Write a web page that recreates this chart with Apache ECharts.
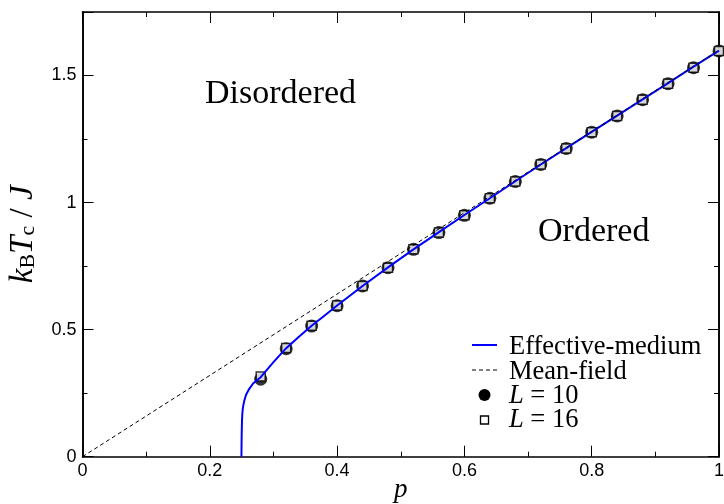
<!DOCTYPE html>
<html>
<head>
<meta charset="utf-8">
<script src="https://cdn.jsdelivr.net/npm/echarts@6/dist/echarts.min.js"></script>
<style>
html, body { margin: 0; padding: 0; background: #fff; }
#chart { width: 724px; height: 504px; }
</style>
</head>
<body>
<div id="chart"></div>
<script>
// Simulation points: concentration p and critical temperature kB Tc / J
const pSim = [0.28, 0.32, 0.36, 0.40, 0.44, 0.48, 0.52, 0.56, 0.60, 0.64,
              0.68, 0.72, 0.76, 0.80, 0.84, 0.88, 0.92, 0.96, 1.00];
const tcL10 = [0.305, 0.425, 0.514, 0.594, 0.672, 0.744, 0.816, 0.882, 0.950, 1.017,
               1.083, 1.150, 1.213, 1.277, 1.341, 1.405, 1.468, 1.531, 1.597];
const tcL16 = [0.316, 0.428, 0.515, 0.595, 0.672, 0.744, 0.816, 0.882, 0.950, 1.017,
               1.083, 1.150, 1.213, 1.277, 1.341, 1.405, 1.468, 1.531, 1.597];

// Effective-medium curve
const emP = [0.2497, 0.2499, 0.2502, 0.2506, 0.2511, 0.2518, 0.2528, 0.2542, 0.2560, 0.2580,
             0.2620, 0.2680, 0.2750, 0.2800, 0.2900, 0.3000, 0.3200, 0.3400, 0.3600,
             0.3800, 0.4000, 0.4400, 0.4800, 0.5200, 0.5600, 0.6000, 0.6400, 0.6800,
             0.7200, 0.7600, 0.8000, 0.8400, 0.8800, 0.9200, 0.9600, 1.0000];
const emT = [0.000, 0.050, 0.100, 0.140, 0.168, 0.188, 0.204, 0.220, 0.236, 0.249,
             0.267, 0.288, 0.303, 0.313, 0.343, 0.372, 0.427, 0.472, 0.515,
             0.555, 0.595, 0.672, 0.745, 0.816, 0.884, 0.951, 1.017, 1.084,
             1.150, 1.214, 1.278, 1.342, 1.406, 1.470, 1.535, 1.598];

// Mean-field line
const mfP = [0, 1];
const mfT = [0, 1.6];

// Tick labels on the temperature axis
const yTickValues = [0, 0.5, 1, 1.5];
const yTickLabels = ['0', '0.5', '1', '1.5'];

const pairs = (xs, ys) => xs.map((x, i) => [x, ys[i]]);

const SERIF = '"Liberation Serif", "Times New Roman", serif';
const SANS = '"Liberation Sans", Arial, sans-serif';

const axisLineStyle = { show: true, onZero: false, lineStyle: { color: '#000', width: 1.6 } };

function xAx(position, showLabels) {
  return {
    type: 'value', position: position, min: 0, max: 1, interval: 0.2,
    axisLine: axisLineStyle,
    axisTick: { show: true, inside: true, length: 11, lineStyle: { color: '#000', width: 1 } },
    minorTick: { show: true, splitNumber: 2, length: 5, lineStyle: { color: '#000', width: 1 } },
    splitLine: { show: false }, minorSplitLine: { show: false },
    axisLabel: { show: showLabels, color: '#000', fontFamily: SANS, fontSize: 18, margin: 5 },
    name: showLabels ? 'p' : '',
    nameLocation: 'middle', nameGap: 20, nameMoveOverlap: false,
    nameTextStyle: { fontFamily: SERIF, fontStyle: 'italic', fontSize: 27, color: '#000' }
  };
}

function yAx(position, interval, tickLen, showLabels, withName) {
  return {
    type: 'value', position: position, min: 0, max: 1.75, interval: interval,
    axisLine: axisLineStyle,
    axisTick: { show: true, inside: true, length: tickLen, lineStyle: { color: '#000', width: 1 } },
    splitLine: { show: false },
    axisLabel: {
      show: showLabels, color: '#000', fontFamily: SANS, fontSize: 18, margin: 6,
      formatter: function (v) {
        const k = yTickValues.findIndex(t => Math.abs(t - v) < 1e-9);
        return k >= 0 ? yTickLabels[k] : '';
      }
    },
    name: withName ? '{i|k}{s|B}{i|T}{s|c}{n| / }{i|J}' : '',
    nameLocation: 'middle', nameRotate: 90, nameGap: 43, nameMoveOverlap: false,
    nameTextStyle: {
      color: '#000',
      rich: {
        i: { fontFamily: SERIF, fontStyle: 'italic', fontSize: 33, lineHeight: 33, color: '#000' },
        n: { fontFamily: SERIF, fontSize: 33, lineHeight: 33, color: '#000' },
        s: { fontFamily: SERIF, fontSize: 22, lineHeight: 22, verticalAlign: 'bottom', color: '#000' }
      }
    }
  };
}

const chart = echarts.init(document.getElementById('chart'), null, { renderer: 'canvas' });

// Legend entries drawn in the lower-right corner
const legendX = 472, legendTextX = 509, fs = 26.5;
const rowsY = [355, 380, 404, 428]; // text baselines
const legendGraphics = [
  { type: 'line', shape: { x1: legendX, y1: 345, x2: legendX + 25, y2: 345 }, style: { stroke: '#0000ff', lineWidth: 2 } },
  { type: 'line', shape: { x1: legendX, y1: 370, x2: legendX + 25, y2: 370 }, style: { stroke: '#000', lineWidth: 1, lineDash: [4, 3] } },
  { type: 'circle', shape: { cx: legendX + 12.5, cy: 395, r: 6 }, style: { fill: '#000' } },
  { type: 'rect', shape: { x: legendX + 8.5, y: 416, width: 8, height: 8 }, style: { fill: '#fff', stroke: '#000', lineWidth: 1.3 } },
  { type: 'text', x: legendTextX, y: rowsY[0] - 8, style: { text: 'Effective-medium', font: fs + 'px ' + SERIF, fill: '#000', verticalAlign: 'middle' } },
  { type: 'text', x: legendTextX, y: rowsY[1] - 8, style: { text: 'Mean-field', font: fs + 'px ' + SERIF, fill: '#000', verticalAlign: 'middle' } },
  { type: 'text', x: legendTextX, y: rowsY[2] - 8, style: {
      text: '{i|L} = 10', fill: '#000', verticalAlign: 'middle',
      rich: { i: { fontFamily: SERIF, fontStyle: 'italic', fontSize: fs } },
      fontFamily: SERIF, fontSize: fs } },
  { type: 'text', x: legendTextX, y: rowsY[3] - 8, style: {
      text: '{i|L} = 16', fill: '#000', verticalAlign: 'middle',
      rich: { i: { fontFamily: SERIF, fontStyle: 'italic', fontSize: fs } },
      fontFamily: SERIF, fontSize: fs } }
];

chart.setOption({
  animation: false,
  backgroundColor: '#fff',
  grid: { left: 82.5, right: 5, top: 12, bottom: 47.3, containLabel: false, outerBoundsMode: 'none' },
  xAxis: [xAx('bottom', true), xAx('top', false)],
  yAxis: [
    yAx('left', 0.25, 5, true, true),
    yAx('left', 0.5, 11, false, false),
    yAx('right', 0.25, 5, false, false),
    yAx('right', 0.5, 11, false, false)
  ],
  series: [
    {
      name: 'Effective-medium', type: 'line', xAxisIndex: 0, yAxisIndex: 0,
      data: pairs(emP, emT), symbol: 'none', smooth: false,
      lineStyle: { color: '#0000ff', width: 2 }
    },
    {
      name: 'Mean-field', type: 'line', xAxisIndex: 0, yAxisIndex: 0,
      data: pairs(mfP, mfT), symbol: 'none',
      lineStyle: { color: '#000', width: 1, type: [4, 3] }
    },
    {
      name: 'L = 10', type: 'scatter', xAxisIndex: 0, yAxisIndex: 0, clip: false,
      data: pairs(pSim, tcL10), symbol: 'circle', symbolSize: 13,
      itemStyle: { color: '#000' }
    },
    {
      name: 'L = 16', type: 'scatter', xAxisIndex: 0, yAxisIndex: 0, clip: false,
      data: pairs(pSim, tcL16), symbol: 'rect', symbolSize: 9,
      itemStyle: { color: '#fff', borderColor: '#000', borderWidth: 1.5 }
    }
  ],
  graphic: [
    { type: 'text', x: 205, y: 94, style: { text: 'Disordered', font: '34px ' + SERIF, fill: '#000', verticalAlign: 'middle' } },
    { type: 'text', x: 538, y: 232, style: { text: 'Ordered', font: '34px ' + SERIF, fill: '#000', verticalAlign: 'middle' } }
  ].concat(legendGraphics)
});
</script>
</body>
</html>
